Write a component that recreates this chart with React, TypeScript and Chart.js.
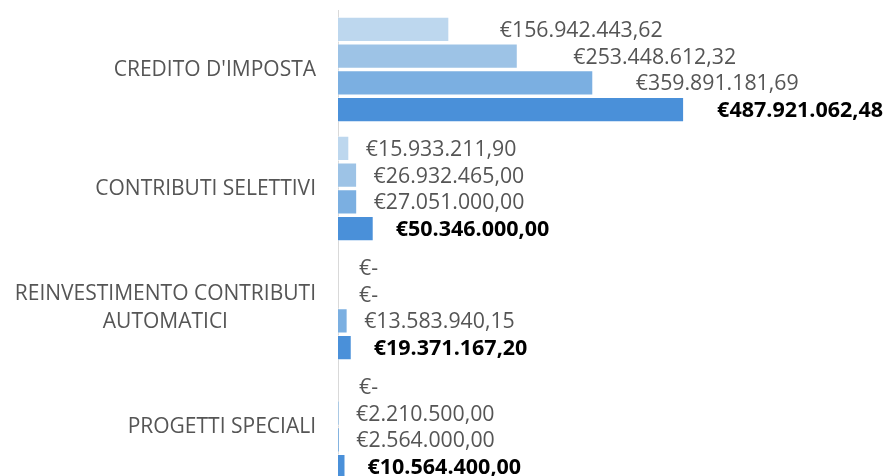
import { useEffect, useRef } from 'react';
import { Chart, registerables } from 'chart.js';

Chart.register(...registerables);

// ---- data ----
const categories: (string | string[])[] = [
  "CREDITO D'IMPOSTA",
  'CONTRIBUTI SELETTIVI',
  ['REINVESTIMENTO CONTRIBUTI', 'AUTOMATICI'],
  'PROGETTI SPECIALI',
];
const seriesNames = ['Serie 1', 'Serie 2', 'Serie 3', 'Serie 4'];
const serie1 = [156942443.62, 15933211.9, 0, 0];
const serie2 = [253448612.32, 26932465.0, 0, 2210500.0];
const serie3 = [359891181.69, 27051000.0, 13583940.15, 2564000.0];
const serie4 = [487921062.48, 50346000.0, 19371167.2, 10564400.0];
const seriesValues = [serie1, serie2, serie3, serie4];

// ---- styles ----
const barColors = ['#BDD7EE', '#9DC3E6', '#7BAFE1', '#4A90D9'];
const FONT = '"Open Sans", "Liberation Sans", sans-serif';

function euro(v: number): string {
  if (v === 0) return '€-';
  const [i, d] = v.toFixed(2).split('.');
  return '€' + i.replace(/\B(?=(\d{3})+(?!\d))/g, '.') + ',' + d;
}

const valueLabels = {
  id: 'valueLabels',
  afterDatasetsDraw(chart: any, _args: any, opts: any) {
    const ctx = chart.ctx;
    const left = chart.chartArea.left;
    ctx.save();
    ctx.textBaseline = 'middle';
    ctx.textAlign = 'left';
    chart.data.datasets.forEach((ds: any, i: number) => {
      const meta = chart.getDatasetMeta(i);
      const bold = i === chart.data.datasets.length - 1;
      ctx.font = bold ? opts.boldFont : opts.font;
      ctx.fillStyle = bold ? opts.boldColor : opts.color;
      meta.data.forEach((bar: any, j: number) => {
        const v = ds.data[j];
        const nudge = (opts.nudge[j] && opts.nudge[j][i]) || 0;
        const x = v === 0 ? left + opts.zeroGap : bar.x + (bold ? opts.boldGap : opts.gap) + nudge;
        ctx.fillText(euro(v), x, bar.y + opts.dy);
      });
    });
    ctx.restore();
  },
};

const categoryLabels = {
  id: 'categoryLabels',
  afterDraw(chart: any, _args: any, opts: any) {
    const ctx = chart.ctx;
    const y = chart.scales.y;
    ctx.save();
    ctx.font = opts.font;
    ctx.fillStyle = opts.color;
    ctx.textBaseline = 'middle';
    ctx.textAlign = 'center';
    const right = chart.chartArea.left - opts.padding;
    categories.forEach((c, i) => {
      const lines = Array.isArray(c) ? c : [c];
      const w = Math.max(...lines.map((l) => ctx.measureText(l).width));
      const cx = right - w / 2;
      const cy = y.getPixelForTick(i);
      const top = cy - ((lines.length - 1) * opts.lineHeight) / 2;
      lines.forEach((l, k) => ctx.fillText(l, cx, top + k * opts.lineHeight + opts.dy));
    });
    ctx.restore();
  },
};

export default function App() {
  const ref = useRef<HTMLCanvasElement | null>(null);
  useEffect(() => {
    if (!ref.current) return;
    const chart = new Chart(ref.current, {
      type: 'bar',
      data: {
        labels: categories.map((c) => (Array.isArray(c) ? c.join(' ') : c)),
        datasets: seriesValues.map((d, i) => ({
          label: seriesNames[i],
          data: d,
          backgroundColor: barColors[i],
          borderColor: 'rgba(255,255,255,0.55)',
          borderWidth: 1,
          categoryPercentage: 0.9,
          barPercentage: 0.94,
        })),
      },
      options: {
        indexAxis: 'y',
        responsive: false,
        animation: false,
        layout: { padding: { top: 10, right: 14, bottom: 14, left: 0 } },
        plugins: {
          legend: { display: false },
          tooltip: { enabled: false },
          valueLabels: {
            font: `21.3px ${FONT}`,
            boldFont: `bold 21.5px ${FONT}`,
            color: '#555555',
            boldColor: '#000000',
            gap: 16.5,
            boldGap: 22,
            zeroGap: 21,
            dy: 1.5,
            nudge: [[34, 39, 26, 11]],
          },
          categoryLabels: {
            font: `21px ${FONT}`,
            color: '#555555',
            padding: 22,
            lineHeight: 28,
            dy: 1,
          },
        } as any,
        scales: {
          x: { display: false, min: 0, max: 750000000 },
          y: {
            grid: { display: false },
            border: { display: true, color: '#D9D9D9', width: 1 },
            ticks: { display: false },
            afterFit: (s: any) => {
              s.width = 338;
            },
          },
        },
      },
      plugins: [valueLabels, categoryLabels],
    });
    return () => chart.destroy();
  }, []);
  return (
    <canvas
      ref={ref}
      width={884}
      height={500}
      style={{ position: 'fixed', left: 0, top: 0, width: 884, height: 500 }}
    />
  );
}
